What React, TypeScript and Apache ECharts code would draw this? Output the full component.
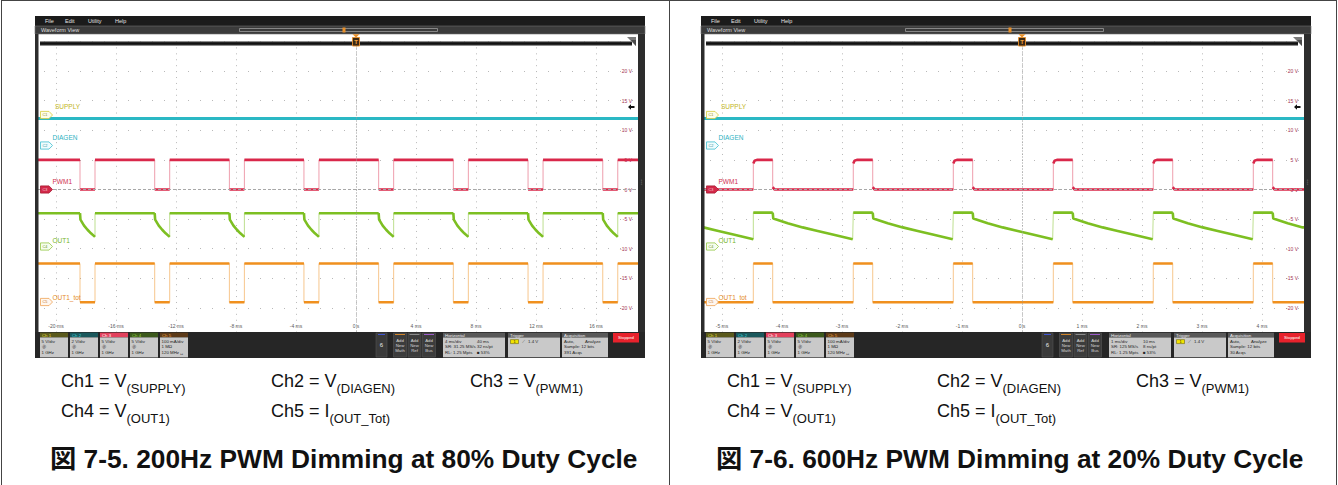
import React, { useEffect, useRef } from 'react';
import * as echarts from 'echarts';

const W = 1338;
const H = 485;
const CAP_FONT = "'Liberation Sans', Arial, 'Noto Sans CJK JP', sans-serif";
const UI_FONT = "'Liberation Sans', 'DejaVu Sans', sans-serif";

// ---------------- Left figure: 200 Hz PWM, 80 % duty (time in ms, values on the 5 V/div screen scale)
const leftTimeRange = [-21.2, 18.8];
const leftTickMin = -20;
const leftTickMax = 16;
const leftTickStep = 4;
const leftTimeTicks = ['-20 ms', '-16 ms', '-12 ms', '-8 ms', '-4 ms', '0 s', '4 ms', '8 ms', '12 ms', '16 ms'];
const leftPwmFalls = [-18.4, -13.42, -8.44, -3.47, 1.51, 6.49, 11.47, 16.45];
const leftPwmRises = [-17.4, -12.42, -7.44, -2.47, 2.51, 7.49, 12.47, 17.45];
const leftPwmHighT = [0];
const leftPwmHighV = [5];
const leftPwmLowT = [0];
const leftPwmLowV = [0];
const leftDiagenLevel = 12;
const leftOut1HighT = [0];
const leftOut1HighV = [-4.0];
const leftOut1DecayT = [0, 0.03, 0.27, 0.5, 0.73, 1.0];
const leftOut1DecayV = [-4.0, -5.1, -6.1, -6.8, -7.4, -8.0];
const leftTotHighT = [0];
const leftTotHighV = [-12.5];
const leftTotLowT = [0];
const leftTotLowV = [-19.05];

// ---------------- Right figure: 600 Hz PWM, 20 % duty
const rightTimeRange = [-5.3, 4.7];
const rightTickMin = -5;
const rightTickMax = 4;
const rightTickStep = 1;
const rightTimeTicks = ['-5 ms', '-4 ms', '-3 ms', '-2 ms', '-1 ms', '0 s', '1 ms', '2 ms', '3 ms', '4 ms'];
const rightPwmFalls = [-5.81, -4.155, -2.488, -0.822, 0.845, 2.512, 4.178];
const rightPwmRises = [-4.478, -2.812, -1.145, 0.522, 2.188, 3.855];
const rightPwmHighT = [0, 0.02, 0.06];
const rightPwmHighV = [4.4, 4.85, 5.0];
const rightPwmLowT = [0, 0.03];
const rightPwmLowV = [0.4, 0];
const rightDiagenLevel = 12;
const rightOut1HighT = [0];
const rightOut1HighV = [-3.9];
const rightOut1DecayT = [0, 0.01, 0.25, 0.5, 0.75, 1.0, 1.333];
const rightOut1DecayV = [-3.9, -4.9, -5.7, -6.4, -7.0, -7.6, -8.4];
const rightTotHighT = [0];
const rightTotHighV = [-12.5];
const rightTotLowT = [0];
const rightTotLowV = [-19.05];

// ---------------- Vertical scale (selected channel, 5 V/div)
const voltMin = -25;
const voltMax = 25;
const voltStep = 5;
const voltTickLabels: Record<string, string> = {
  '20': '20 V', '15': '15 V', '10': '10 V', '5': '5 V', '0': '0 V',
  '-5': '-5 V', '-10': '-10 V', '-15': '-15 V', '-20': '-20 V',
};

// ---------------- Texts
const menuItems: [string, number][] = [['File', 45], ['Edit', 65], ['Utility', 88], ['Help', 115]];
const chBoxes = [
  { head: '#5a591c', headText: '#e6df3c', lines: ['5 V/div', 'Ⓑ', '1 GHz'] },
  { head: '#1a585c', headText: '#3fd0de', lines: ['2 V/div', 'Ⓑ', '1 GHz'] },
  { head: '#e3405c', headText: '#ffffff', lines: ['5 V/div', 'Ⓑ', '1 GHz'] },
  { head: '#3c591c', headText: '#98d040', lines: ['5 V/div', 'Ⓑ', '1 GHz'] },
  { head: '#5c3a18', headText: '#f0a040', lines: ['100 mA/div', '1 MΩ', '120 MHz ␣'] },
];
const leftHoriz = [['4 ms/div', '40 ms'], ['SR: 31.25 MS/s', '32 ns/pt'], ['RL: 1.25 Mpts', '■ 53%']];
const rightHoriz = [['1 ms/div', '10 ms'], ['SR: 125 MS/s', '8 ns/pt'], ['RL: 1.25 Mpts', '■ 53%']];
const leftAcq = [['Auto,', 'Analyze'], ['Sample: 12 bits', ''], ['391 Acqs', '']];
const rightAcq = [['Auto,', 'Analyze'], ['Sample: 12 bits', ''], ['30 Acqs', '']];
const capRows = [
  [['Ch1 = V', '(SUPPLY)'], ['Ch2 = V', '(DIAGEN)'], ['Ch3 = V', '(PWM1)']],
  [['Ch4 = V', '(OUT1)'], ['Ch5 = I', '(OUT_Tot)']],
];
const leftCaption = '図 7-5. 200Hz PWM Dimming at 80% Duty Cycle';
const rightCaption = '図 7-6. 600Hz PWM Dimming at 20% Duty Cycle';

type Pt = [number, number | string];

function buildTrace(range: number[], falls: number[], rises: number[], hT: number[], hV: number[], lT: number[], lV: number[]): Pt[][] {
  const edges = falls.map((t) => ({ t, up: false })).concat(rises.map((t) => ({ t, up: true }))).sort((a, b) => a.t - b.t);
  const before = edges.filter((e) => e.t <= range[0]);
  const after = edges.filter((e) => e.t > range[0] && e.t < range[1]);
  let high = before.length ? before[before.length - 1].up : !after[0].up;
  let start = before.length ? before[before.length - 1].t : range[0];
  const ends = after.map((e) => e.t).concat([range[1]]);
  const segs: Pt[][] = [];
  for (const end of ends) {
    const T = high ? hT : lT;
    const V = high ? hV : lV;
    const seg: Pt[] = [];
    for (let i = 0; i < T.length; i++) {
      const t = start + T[i];
      if (t <= end + 0.05) seg.push([Math.min(t, end), V[i]]);
    }
    if ((seg[seg.length - 1][0] as number) < end) seg.push([end, seg[seg.length - 1][1]]);
    segs.push(seg);
    start = end;
    high = !high;
  }
  return segs;
}

function traceSeries(segs: Pt[][], color: string, edge: string, xi: number, yi: number, width: number, extra: any = {}) {
  const broken: Pt[] = [];
  segs.forEach((s, i) => {
    if (i) broken.push([s[0][0], '-']);
    s.forEach((p) => broken.push(p));
  });
  return [
    {
      type: 'line', xAxisIndex: xi, yAxisIndex: yi, data: segs.flat(), symbol: 'none', showSymbol: false,
      lineStyle: { color: edge, width: 1 }, z: 3, silent: true,
    },
    {
      type: 'line', xAxisIndex: xi, yAxisIndex: yi, data: broken, symbol: 'none', showSymbol: false,
      connectNulls: false, lineStyle: { color, width, cap: 'butt' }, z: 4, silent: true, ...extra,
    },
  ];
}

function chrome(ox: number, horiz: string[][], acq: string[][]) {
  const E: any[] = [];
  const R = (x: number, y: number, w: number, h: number, fill: string, st: any = {}, z = 100) =>
    E.push({ type: 'rect', z, shape: { x: x + ox, y, width: w, height: h }, style: { fill, ...st } });
  const T = (x: number, y: number, text: string, fill: string, size: number, st: any = {}, z = 102) =>
    E.push({
      type: 'text', z, x: x + ox, y,
      style: { text, fill, fontSize: size, fontFamily: UI_FONT, verticalAlign: 'middle', textVerticalAlign: 'middle', ...st },
    });
  const P = (pts: number[][], fill: string, st: any = {}, z = 101) =>
    E.push({ type: 'polygon', z, shape: { points: pts.map(([x, y]) => [x + ox, y]) }, style: { fill, ...st } });
  const C = { align: 'center', textAlign: 'center' };

  // menu + waveform view bar
  R(35, 16, 610, 10, '#1b1b1b');
  menuItems.forEach(([m, x]) => T(x, 21, m, '#e4e4e4', 5.5));
  R(35, 26, 610, 8, '#3b3b3b', { stroke: '#6e6e6e', lineWidth: 0.6 });
  T(41, 30, 'Waveform View', '#dedede', 5.5);
  R(239.5, 28.5, 198, 3, 'none', { stroke: '#9a9a9a', lineWidth: 0.8 });
  R(342.5, 27.5, 3, 5, '#e8902a');
  // frame
  R(35, 34, 3.5, 298, '#2d2d2d');
  R(638, 34, 7, 298, '#2d2d2d');
  T(641.5, 182, '⋮', '#b0b0b0', 6, C);
  // overview strip
  R(40, 41.3, 592, 4.4, '#6a6a6a', {}, 99);
  R(40, 42.3, 592, 2.4, '#111111');
  // trigger marker
  P([[352.5, 34.3], [359.5, 34.3], [356, 37.5]], '#e8902a');
  R(352.5, 37.5, 7, 8.5, '#3a2814', { stroke: '#e8902a', lineWidth: 0.9 }, 101);
  T(356, 41.8, 'T', '#f2a13c', 6, { ...C, fontWeight: 'bold' });
  // right end marker of overview
  P([[627, 37], [636, 37], [636, 46]], '#7a7a7a');
  P([[631, 40], [636, 40], [636, 46]], '#4a4a4a');
  // offset arrow near 15 V
  P([[628, 107], [631, 104.2], [631, 106], [634.5, 106], [634.5, 108], [631, 108], [631, 109.8]], '#111');

  // channel labels and markers
  const labels: [string, number, number, string][] = [
    ['SUPPLY', 55, 106.5, '#c2b51e'],
    ['DIAGEN', 52.5, 137, '#2fb3c3'],
    ['PWM1', 52.5, 181.5, '#cf2f4f'],
    ['OUT1', 52.5, 240.5, '#74b326'],
    ['OUT1_tot', 52.5, 297.5, '#e58a25'],
  ];
  labels.forEach(([t, x, y, c]) => T(x, y, t, c, 6.5));
  const markers: [string, number, string, string, string][] = [
    ['C1', 115, '#d6cd3a', '#fdfdea', '#8c8720'],
    ['C2', 145.5, '#3fbfd0', '#effcfd', '#1f8f9e'],
    ['C3', 189.5, '#a8182f', '#d3294a', '#f9d0d6'],
    ['C4', 246.5, '#93c845', '#f6fdee', '#5f9022'],
    ['C5', 302, '#efa255', '#fff7ef', '#bf6e1f'],
  ];
  markers.forEach(([t, y, stroke, fill, tc]) => {
    P([[40.5, y - 3.6], [49, y - 3.6], [52.5, y], [49, y + 3.6], [40.5, y + 3.6]], fill, { stroke, lineWidth: 0.8 }, 103);
    T(45, y, t, tc, 3.8, C, 104);
  });

  // bottom panel
  R(35, 332, 610, 26, '#262626');
  chBoxes.forEach((c, i) => {
    const x = 40 + i * 30;
    R(x, 332.6, 28, 4.8, c.head, {}, 101);
    T(x + 2, 335, `Ch ${i + 1}`, c.headText, 4.3);
    R(x, 337.4, 28, 20, '#c9c9c9', {}, 101);
    c.lines.forEach((l, j) => T(x + 1.5, 341.6 + j * 5.3, l, '#262626', 4.4));
  });
  R(376, 333, 11, 24, '#3a3a3a', { stroke: '#565656', lineWidth: 0.6 }, 101);
  R(378, 334, 7, 1, '#4055d0', {}, 102);
  T(381.5, 345, '6', '#e8e8e8', 6, C);
  const adds: [string, string][] = [['Math', '#d0842a'], ['Ref', '#8a8a8a'], ['Bus', '#9b5bc8']];
  adds.forEach(([n, col], i) => {
    const x = 393.5 + i * 14.5;
    R(x, 333, 13, 24, '#3c3c3c', { stroke: '#565656', lineWidth: 0.6 }, 101);
    R(x + 1.5, 334, 10, 1, col, {}, 102);
    T(x + 6.5, 340, 'Add', '#d8d8d8', 4.3, C);
    T(x + 6.5, 345, 'New', '#d8d8d8', 4.3, C);
    T(x + 6.5, 350, n, '#d8d8d8', 4.3, C);
  });
  const box = (x: number, w: number, title: string) => {
    R(x, 332.8, w, 4.8, '#595959', {}, 101);
    T(x + 2, 335.2, title, '#efefef', 4.4);
    R(x, 337.6, w, 19.6, '#c9c9c9', {}, 101);
  };
  box(443, 62, 'Horizontal');
  horiz.forEach(([a, b], j) => {
    T(445, 341.6 + j * 5.3, a, '#262626', 4.4);
    T(477, 341.6 + j * 5.3, b, '#262626', 4.4);
  });
  box(508, 52, 'Trigger');
  R(510.5, 339.6, 8, 4, '#f2e200', { stroke: '#5a5200', lineWidth: 0.5, r: 1.5 }, 102);
  T(514.5, 341.6, '1', '#2a2a00', 3.8, C, 103);
  T(521.5, 341.6, '⟋', '#444', 4.4);
  T(528, 341.6, '1.4 V', '#262626', 4.4);
  box(562, 46, 'Acquisition');
  acq.forEach(([a, b], j) => {
    T(564, 341.6 + j * 5.3, a, '#262626', 4.4);
    if (b) T(585, 341.6 + j * 5.3, b, '#262626', 4.4);
  });
  R(613, 333, 26, 9.5, '#e8222c', {}, 101);
  T(626, 337.8, 'Stopped', '#ffffff', 4.3, C);
  return E;
}

function captions(ox: number, caption: string) {
  const E: any[] = [];
  const xs = [61, 271, 470];
  const ys = [383, 413];
  capRows.forEach((row, r) =>
    row.forEach(([main, sub], c) => {
      E.push({
        type: 'text', z: 10, x: xs[c] + ox, y: ys[r],
        style: {
          text: `{m|${main}}{s|${sub}}`,
          verticalAlign: 'middle', textVerticalAlign: 'middle',
          rich: {
            m: { fontSize: 18, fontFamily: CAP_FONT, fill: '#111', color: '#111', lineHeight: 22, verticalAlign: 'top' },
            s: { fontSize: 13, fontFamily: CAP_FONT, fill: '#111', color: '#111', lineHeight: 13, padding: [10, 0, 0, 0], verticalAlign: 'top' },
          },
        },
      });
    })
  );
  E.push({
    type: 'text', z: 10, x: 50 + ox, y: 459,
    style: { text: caption, fill: '#111', fontSize: 26.3, fontWeight: 'bold', fontFamily: CAP_FONT, verticalAlign: 'middle', textVerticalAlign: 'middle' },
  });
  return E;
}

function buildOption() {
  const scopes = [
    {
      left: 38, range: leftTimeRange, tmin: leftTickMin, tmax: leftTickMax, tstep: leftTickStep, ticks: leftTimeTicks,
      pwm: buildTrace(leftTimeRange, leftPwmFalls, leftPwmRises, leftPwmHighT, leftPwmHighV, leftPwmLowT, leftPwmLowV),
      out1: buildTrace(leftTimeRange, leftPwmFalls, leftPwmRises, leftOut1HighT, leftOut1HighV, leftOut1DecayT, leftOut1DecayV),
      tot: buildTrace(leftTimeRange, leftPwmFalls, leftPwmRises, leftTotHighT, leftTotHighV, leftTotLowT, leftTotLowV),
      diag: leftDiagenLevel,
    },
    {
      left: 704, range: rightTimeRange, tmin: rightTickMin, tmax: rightTickMax, tstep: rightTickStep, ticks: rightTimeTicks,
      pwm: buildTrace(rightTimeRange, rightPwmFalls, rightPwmRises, rightPwmHighT, rightPwmHighV, rightPwmLowT, rightPwmLowV),
      out1: buildTrace(rightTimeRange, rightPwmFalls, rightPwmRises, rightOut1HighT, rightOut1HighV, rightOut1DecayT, rightOut1DecayV),
      tot: buildTrace(rightTimeRange, rightPwmFalls, rightPwmRises, rightTotHighT, rightTotHighV, rightTotLowT, rightTotLowV),
      diag: rightDiagenLevel,
    },
  ];
  const grid: any[] = [];
  const xAxis: any[] = [];
  const yAxis: any[] = [];
  const series: any[] = [];
  const top = 41.5;
  const height = 296;
  scopes.forEach((s, k) => {
    const span = s.range[1] - s.range[0];
    const pxPerUnit = 600 / span;
    const gLeft = s.left + (s.tmin - s.range[0]) * pxPerUnit;
    const gWidth = (s.tmax - s.tmin) * pxPerUnit;
    grid.push({ left: s.left, top, width: 600, height, containLabel: false });
    grid.push({ left: gLeft, top, width: gWidth, height, containLabel: false });
    const wi = k * 2;
    const gi = k * 2 + 1;
    xAxis.push({ gridIndex: wi, type: 'value', min: s.range[0], max: s.range[1], show: false });
    xAxis.push({
      gridIndex: gi, type: 'value', min: s.tmin, max: s.tmax, interval: s.tstep,
      axisLine: { show: false }, axisTick: { show: false },
      axisLabel: {
        inside: true, margin: 9, fontSize: 5, color: '#5a5a5a', fontFamily: UI_FONT,
        formatter: (_v: number, idx: number) => s.ticks[idx] ?? '',
      },
      splitLine: { show: true, lineStyle: { color: '#b9b9b9', width: 1, type: [1, 4.92], dashOffset: 0 } },
    });
    yAxis.push({
      gridIndex: wi, type: 'value', min: voltMin, max: voltMax, interval: voltStep, position: 'right',
      axisLine: { show: false }, axisTick: { show: false },
      axisLabel: {
        inside: true, margin: 6, fontSize: 5, color: '#a23350', fontFamily: UI_FONT,
        showMinLabel: false, showMaxLabel: false,
        formatter: (v: number) => voltTickLabels[String(v)] ?? '',
      },
      splitLine: { show: true, lineStyle: { color: '#b9b9b9', width: 1, type: [1, 11], dashOffset: 6 } },
    });
    yAxis.push({ gridIndex: gi, type: 'value', min: voltMin, max: voltMax, show: false });

    series.push({
      type: 'line', xAxisIndex: wi, yAxisIndex: wi, symbol: 'none', silent: true, z: 4,
      data: [[s.range[0], s.diag], [s.range[1], s.diag]],
      lineStyle: { color: '#2ab8c4', width: 3 },
      markLine: {
        silent: true, symbol: 'none', label: { show: false },
        data: [
          { xAxis: 0, lineStyle: { color: '#9a9a9a', width: 1, type: [1, 2] } },
          { yAxis: 0, lineStyle: { color: '#a8a8a8', width: 1, type: [3, 2] } },
        ],
      },
    });
    series.push(...traceSeries(s.pwm, '#d9284a', 'rgba(217,40,74,0.45)', wi, wi, 2.6));
    series.push(...traceSeries(s.out1, '#7dbf22', 'rgba(125,191,34,0.5)', wi, wi, 2.6));
    series.push(...traceSeries(s.tot, '#f0901e', 'rgba(240,144,30,0.5)', wi, wi, 2.6));
  });

  const graphic: any[] = [
    ...chrome(0, leftHoriz, leftAcq),
    ...chrome(666, rightHoriz, rightAcq),
    ...captions(0, leftCaption),
    ...captions(666, rightCaption),
    { type: 'line', z: 5, shape: { x1: 1, y1: 0.5, x2: 1337, y2: 0.5 }, style: { stroke: '#444', lineWidth: 1 } },
    { type: 'line', z: 5, shape: { x1: 1.5, y1: 0, x2: 1.5, y2: 485 }, style: { stroke: '#444', lineWidth: 1 } },
    { type: 'line', z: 5, shape: { x1: 669.5, y1: 0, x2: 669.5, y2: 485 }, style: { stroke: '#444', lineWidth: 1 } },
    { type: 'line', z: 5, shape: { x1: 1336.5, y1: 0, x2: 1336.5, y2: 485 }, style: { stroke: '#444', lineWidth: 1 } },
  ];

  return { animation: false, backgroundColor: '#ffffff', grid, xAxis, yAxis, series, graphic };
}

export default function App() {
  const ref = useRef<HTMLDivElement>(null);
  useEffect(() => {
    document.body.style.margin = '0';
    const chart = echarts.init(ref.current as HTMLDivElement, undefined, { renderer: 'svg', width: W, height: H });
    chart.setOption(buildOption());
    return () => chart.dispose();
  }, []);
  return <div ref={ref} style={{ width: W, height: H, background: '#fff' }} />;
}
